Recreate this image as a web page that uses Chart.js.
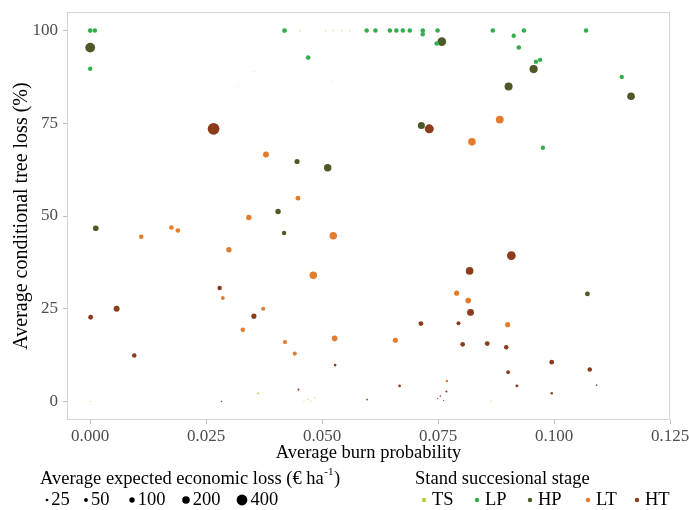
<!DOCTYPE html>
<html>
<head>
<meta charset="utf-8">
<script src="https://cdn.jsdelivr.net/npm/chart.js@4.4.1/dist/chart.umd.min.js"></script>
<style>
  body { margin: 0; background: #fff; }
  #wrap { width: 689px; height: 510px; }
</style>
</head>
<body>
<div id="wrap"><canvas id="chart" width="689" height="510"></canvas></div>
<script>
// stand successional stages
var stages = ['TS', 'LP', 'HP', 'LT', 'HT'];
var stageColors = ['#b9d23c', '#34ad4c', '#4b5a26', '#e47c2c', '#8a3c1b'];

// average burn probability / conditional tree loss (%) / expected loss (EUR/ha)
var tsBurn = [0.000, 0.0362, 0.0461, 0.047, 0.0476, 0.0484, 0.0864, 0.0452, 0.0507, 0.0524, 0.0542, 0.056, 0.0353, 0.032, 0.0522];
var tsLoss = [0, 2.2, 0.1, 0.5, 0.1, 1.0, 0.1, 100, 100, 100, 100, 100, 88.9, 84.9, 86.2];
var tsEcon = [4, 12, 4, 5, 4, 5, 4, 5, 5, 5, 5, 5, 3, 3, 3];

var lpBurn = [0.000, 0.001, 0.000, 0.0419, 0.047, 0.0596, 0.0615, 0.0646, 0.066, 0.0674, 0.0689, 0.0717, 0.0717, 0.0749, 0.0747, 0.0868, 0.0913, 0.0935, 0.0924, 0.0961, 0.097, 0.1069, 0.1146, 0.0976];
var lpLoss = [100, 100, 89.7, 100, 92.7, 100, 100, 100, 100, 100, 100, 100, 99, 100, 96.5, 100, 98.6, 100, 95.4, 91.6, 92.1, 100, 87.5, 68.4];
var lpEcon = [75, 70, 65, 80, 75, 70, 70, 70, 70, 70, 70, 70, 70, 70, 70, 70, 65, 70, 70, 65, 65, 70, 65, 65];

var hpBurn = [0.000, 0.0012, 0.0405, 0.0418, 0.0446, 0.0512, 0.0714, 0.0758, 0.0902, 0.0956, 0.1166, 0.1072];
var hpLoss = [95.4, 46.7, 51.2, 45.4, 64.7, 63.0, 74.4, 97.0, 84.9, 89.6, 82.3, 29.0];
var hpEcon = [330, 110, 100, 70, 90, 190, 170, 260, 220, 230, 200, 80];

var ltBurn = [0.011, 0.0175, 0.0189, 0.0286, 0.0299, 0.0329, 0.0342, 0.0373, 0.0379, 0.042, 0.0441, 0.0448, 0.0481, 0.0524, 0.0527, 0.0658, 0.079, 0.0815, 0.0823, 0.0883, 0.09, 0.0769];
var ltLoss = [44.4, 46.9, 46.1, 27.9, 40.9, 19.3, 49.6, 25.0, 66.6, 16.0, 12.9, 54.8, 34.0, 44.7, 17.0, 16.5, 29.2, 27.2, 70.0, 76.0, 20.7, 5.5];
var ltEcon = [70, 75, 70, 50, 100, 70, 100, 60, 120, 60, 60, 80, 190, 190, 110, 90, 90, 110, 200, 210, 90, 20];

var htBurn = [0.0001, 0.0057, 0.0095, 0.0266, 0.0279, 0.0353, 0.0528, 0.0713, 0.0731, 0.0794, 0.0803, 0.0818, 0.082, 0.0856, 0.0897, 0.0901, 0.0908, 0.092, 0.0995, 0.0995, 0.1077, 0.0667, 0.0449, 0.0597, 0.0768, 0.0755, 0.0762, 0.0749, 0.1092, 0.0283];
var htLoss = [22.7, 25.0, 12.4, 73.5, 30.6, 23.0, 9.8, 21.0, 73.5, 21.1, 15.4, 35.2, 24.0, 15.6, 14.6, 7.9, 39.3, 4.2, 10.6, 2.2, 8.6, 4.2, 3.2, 0.5, 2.7, 1.5, 0.3, 0.8, 4.4, 0.0];
var htEcon = [80, 120, 70, 480, 70, 90, 25, 80, 280, 55, 75, 200, 160, 80, 70, 50, 260, 30, 75, 20, 70, 25, 15, 10, 15, 8, 6, 5, 8, 6];

var xTickValues = [0, 0.025, 0.05, 0.075, 0.1, 0.125];
var yTickValues = [0, 25, 50, 75, 100];
var sizeBreaks = [25, 50, 100, 200, 400];

var serif = '"Liberation Serif", "Times New Roman", serif';

function radiusOf(econ) {
  return 0.27 * Math.sqrt(econ);
}

function makePoints(burn, loss, econ) {
  return burn.map(function(b, i) {
    return { x: b, y: loss[i], econ: econ[i] };
  });
}

var groups = [
  makePoints(tsBurn, tsLoss, tsEcon),
  makePoints(lpBurn, lpLoss, lpEcon),
  makePoints(hpBurn, hpLoss, hpEcon),
  makePoints(ltBurn, ltLoss, ltEcon),
  makePoints(htBurn, htLoss, htEcon)
];

var datasets = stages.map(function(s, i) {
  return {
    label: s,
    data: groups[i],
    backgroundColor: stageColors[i],
    borderWidth: 0,
    pointRadius: function(ctx) { return ctx.raw ? radiusOf(ctx.raw.econ) : 0; },
    pointHoverRadius: function(ctx) { return ctx.raw ? radiusOf(ctx.raw.econ) : 0; }
  };
});

// panel border + the two legends underneath
var extras = {
  id: 'extras',
  beforeDatasetsDraw: function(chart) {
    var a = chart.chartArea, c = chart.ctx;
    c.save();
    c.strokeStyle = '#d4d4d4';
    c.lineWidth = 1;
    c.strokeRect(a.left + 0.5, a.top + 0.5, a.right - a.left - 1, a.bottom - a.top - 1);
    c.restore();
  },
  afterDraw: function(chart) {
    var c = chart.ctx;
    var fs = '18.5px ' + serif;
    c.save();
    c.fillStyle = '#000';
    c.textBaseline = 'middle';
    c.textAlign = 'left';

    // size legend
    c.font = fs;
    var t = 'Average expected economic loss (\u20ac ha';
    c.fillText(t, 40, 479);
    var w = c.measureText(t).width;
    c.font = '11px ' + serif;
    c.fillText('-1', 40 + w + 0.5, 472);
    var w2 = c.measureText('-1').width;
    c.font = fs;
    c.fillText(')', 41 + w + w2, 479);

    var sizeX = [47, 86, 132, 186, 242];
    sizeBreaks.forEach(function(v, i) {
      var r = radiusOf(v);
      c.beginPath();
      c.arc(sizeX[i], 500, r, 0, Math.PI * 2);
      c.fillStyle = '#000';
      c.fill();
      c.fillText(String(v), sizeX[i] + r + 3, 500);
    });

    // stage legend
    c.fillText('Stand succesional stage', 415, 479);
    var stageX = [424, 477, 530, 588, 637];
    stages.forEach(function(s, i) {
      c.beginPath();
      c.arc(stageX[i], 500, 2.2, 0, Math.PI * 2);
      c.fillStyle = stageColors[i];
      c.fill();
      c.fillStyle = '#000';
      c.fillText(s, stageX[i] + 8, 500);
    });
    c.restore();
  }
};

new Chart(document.getElementById('chart'), {
  type: 'scatter',
  data: { datasets: datasets },
  plugins: [extras],
  options: {
    responsive: false,
    animation: false,
    events: [],
    layout: { padding: { left: 0, top: 12, right: 19, bottom: 46 } },
    plugins: { legend: { display: false }, tooltip: { enabled: false } },
    scales: {
      x: {
        type: 'linear',
        min: -0.005,
        max: 0.125,
        afterBuildTicks: function(s) { s.ticks = xTickValues.map(function(v) { return { value: v }; }); },
        afterFit: function(s) { s.height = 44; s.paddingLeft = 0; s.paddingRight = 0; },
        border: { display: false },
        grid: { drawOnChartArea: false, drawTicks: true, tickLength: 4, color: '#bdbdbd' },
        ticks: {
          color: '#4d4d4d',
          font: { family: serif, size: 17 },
          padding: 2,
          maxRotation: 0,
          callback: function(v) { return Number(v).toFixed(3); }
        },
        title: {
          display: true,
          text: 'Average burn probability',
          color: '#000',
          font: { family: serif, size: 18.5 },
          padding: { top: 0, bottom: 0 }
        }
      },
      y: {
        type: 'linear',
        min: -5,
        max: 105,
        afterBuildTicks: function(s) { s.ticks = yTickValues.map(function(v) { return { value: v }; }); },
        afterFit: function(s) { s.width = 67; s.paddingTop = 0; s.paddingBottom = 0; },
        border: { display: false },
        grid: { drawOnChartArea: false, drawTicks: true, tickLength: 4, color: '#bdbdbd' },
        ticks: {
          color: '#4d4d4d',
          font: { family: serif, size: 17 },
          padding: 5,
          callback: function(v) { return String(v); }
        },
        title: {
          display: true,
          text: 'Average conditional tree loss (%)',
          color: '#000',
          font: { family: serif, size: 20 },
          padding: { top: 10, bottom: 0 }
        }
      }
    }
  }
});
</script>
</body>
</html>
